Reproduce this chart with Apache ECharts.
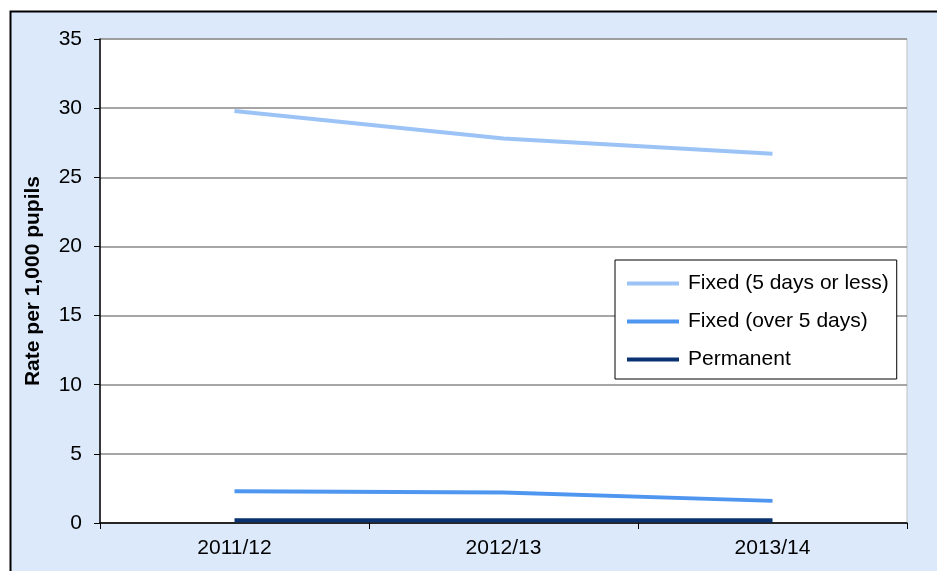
<!DOCTYPE html>
<html>
<head>
<meta charset="utf-8">
<script src="https://cdn.jsdelivr.net/npm/echarts@6/dist/echarts.min.js"></script>
<style>
  html, body { margin: 0; padding: 0; background: #fff; }
  #main { width: 937px; height: 571px; }
</style>
</head>
<body>
<div id="main"></div>
<script>
  // data
  var years = ['2011/12', '2012/13', '2013/14'];
  var fixedShort = [29.8, 27.8, 26.7];
  var fixedLong = [2.3, 2.2, 1.6];
  var permanent = [0.2, 0.2, 0.2];
  var yTicks = [0, 35, 5]; // min, max, step

  var font = 'Liberation Sans, Arial, sans-serif';
  var myChart = echarts.init(document.getElementById('main'));

  var option = {
    animation: false,
    backgroundColor: '#fff',
    graphic: [{
      type: 'rect',
      z: -10,
      shape: { x: 10.5, y: 11.5, width: 1000, height: 1000 },
      style: { fill: '#DBE9FB', stroke: '#000', lineWidth: 2 }
    }],
    grid: {
      left: 100, top: 39, right: 30, bottom: 48,
      show: true,
      backgroundColor: '#fff',
      borderColor: '#c0c0c0',
      borderWidth: 1
    },
    legend: {
      orient: 'vertical',
      left: 615, top: 260,
      padding: [13, 8, 9, 12],
      backgroundColor: '#fff',
      borderColor: '#000',
      borderWidth: 1,
      itemWidth: 52,
      itemHeight: 4,
      itemGap: 17,
      icon: 'rect',
      textStyle: { fontFamily: font, fontSize: 21, color: '#000', lineHeight: 21, padding: [0, 0, 0, 4] },
      data: ['Fixed (5 days or less)', 'Fixed (over 5 days)', 'Permanent']
    },
    xAxis: {
      type: 'category',
      data: years,
      boundaryGap: true,
      axisLine: { lineStyle: { color: '#000', width: 1.5 } },
      axisTick: { show: true, length: 6, lineStyle: { color: '#000' } },
      axisLabel: { fontFamily: font, fontSize: 21, color: '#000', margin: 15 },
      splitLine: { show: false }
    },
    yAxis: {
      type: 'value',
      min: yTicks[0], max: yTicks[1], interval: yTicks[2],
      name: 'Rate per 1,000 pupils',
      nameLocation: 'middle',
      nameGap: 56,
      nameTextStyle: { fontFamily: font, fontSize: 21, fontWeight: 'bold', color: '#000' },
      axisLine: { show: true, lineStyle: { color: '#000', width: 1.5 } },
      axisTick: { show: true, length: 6, lineStyle: { color: '#000' } },
      axisLabel: { fontFamily: font, fontSize: 21, color: '#000', margin: 18 },
      splitLine: { show: true, lineStyle: { color: '#888', width: 1.5 } }
    },
    series: [
      {
        name: 'Fixed (5 days or less)',
        type: 'line',
        data: fixedShort,
        symbol: 'none',
        color: '#9CC3F6',
        lineStyle: { width: 4, color: '#9CC3F6' }
      },
      {
        name: 'Fixed (over 5 days)',
        type: 'line',
        data: fixedLong,
        symbol: 'none',
        color: '#4F96F0',
        lineStyle: { width: 4, color: '#4F96F0' }
      },
      {
        name: 'Permanent',
        type: 'line',
        data: permanent,
        symbol: 'none',
        color: '#0A3270',
        lineStyle: { width: 4, color: '#0A3270' }
      }
    ]
  };

  myChart.setOption(option);
</script>
</body>
</html>
